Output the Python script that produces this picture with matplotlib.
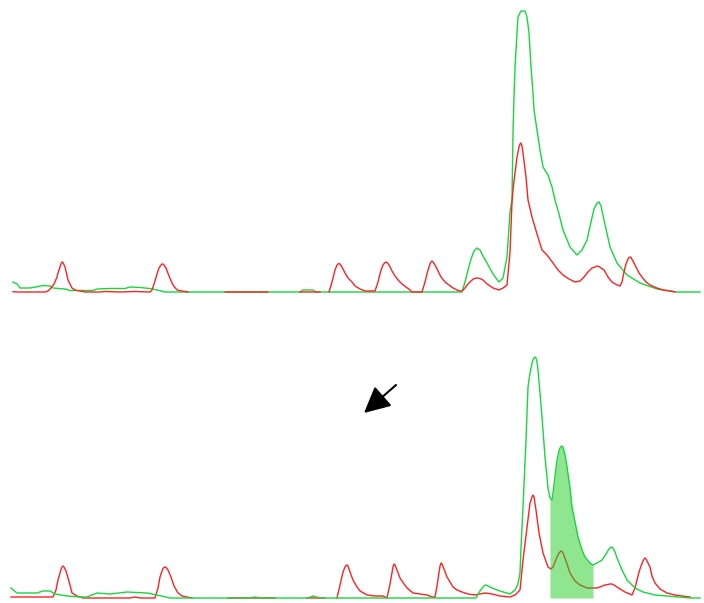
import numpy as np
import matplotlib.pyplot as plt

# две хроматограммы (верх / низ), красный и зелёный каналы
nan = np.nan

# --- верхняя панель ---
top_green_t = [13, 17, 20, 30, 33, 43, 50, 53, 65, 70, 80, 93, 97, 110, 125, 130, 140, 150, 155, 165,
               300, 303, 313, 316, 462, 465, 468, 471, 474, 477, 480, 483, 487, 493, 499, 503, 507,
               510, 512, 513, 514, 515, 517, 518, 521, 525, 527, 529, 531, 533, 534, 537, 540, 543,
               548, 552, 555, 559, 563, 570, 577, 582, 587, 591, 594, 597, 599, 601, 604, 610, 617,
               627, 640, 657, 677, 700]
top_green_i = [10, 8, 4, 4, 4.5, 6.5, 6, 4, 3, 1.5, 1.5, 1.5, 3, 3.5, 3.5, 5, 4.5, 3.5, 2.5, 0,
               0, 2, 2, 0, 0, 10, 22, 33, 41, 44, 42, 36, 29, 18, 10, 14, 35,
               80, 92, 159, 195, 225, 259, 275, 281, 281, 275, 259, 225, 199, 182, 162, 142, 125,
               117, 105, 92, 78, 62, 45, 37, 42, 52, 70, 83, 89, 90, 86, 72, 45, 29,
               17, 9, 3, 0, 0]

top_red_t = [13, 17, 45, 48, 51, 54, 57, 58, 60, 61, 62, 63, 65, 68, 72, 75, 80, 85, 100, 105, 120,
             135, 150, 152, 155, 157, 159, 161, 162, 163, 164, 166, 169, 173, 177, 182, 188, 189,
             225, 268, 269,
             300, 320, 321,
             329, 332, 335, 337, 338, 339, 340, 342, 345, 348, 352, 355, 360, 365, 375, 378, 381,
             383, 385, 386, 387, 389, 392, 395, 399, 402, 406, 410, 412, 422, 425, 428, 430, 431,
             432, 433, 435, 438, 441, 445, 449, 453, 457, 460, 462, 465, 468, 471, 474, 477, 480,
             483, 487, 493, 499, 503, 507, 510, 512, 513, 515, 517, 519, 520, 521, 522, 523, 526,
             528, 532, 537, 542, 547, 553, 558, 563, 569, 575, 580, 584, 588, 592, 595, 597, 599,
             601, 604, 608, 612, 617, 620, 622, 624, 626, 628, 629, 630, 631, 633, 636, 639, 642,
             646, 650, 657, 663, 670, 675]
top_red_i = [0.3, 0, 0, 1, 4, 8, 15, 19, 25, 28, 30, 29.5, 25, 12, 4, 2, 1, 0, 0, 0.5, 0,
             0.5, 0, 2, 11, 18, 24, 27, 28, 28, 27, 24, 16, 7, 2, 1, 0, nan,
             0, 0, nan,
             0, 0, nan,
             0, 10, 22, 27, 28, 28.5, 28, 25, 19, 14, 10, 6, 3, 1, 1, 10, 22,
             27, 29.5, 30, 29.5, 27, 21, 16, 11, 8, 5, 2, 0, 0, 10, 22, 28, 30,
             31, 30, 27, 21, 15, 10, 7, 4, 2, 1, 1, 4, 8, 11, 13.5, 14, 13.5,
             12, 8, 4, 2, 4, 7, 40, 90, 102, 119, 135, 145, 148, 149, 146, 139, 115,
             92, 75, 58, 42, 37, 29, 22, 17, 13, 10, 11, 15, 20, 24, 25, 26, 25.5,
             24, 22, 15, 10, 7, 6, 10, 20, 28, 33, 34.5, 35, 34.5, 31, 25, 19, 15,
             10, 7, 4, 2, 1, 0]

# --- нижняя панель ---
bot_green_t = [11, 17, 37, 43, 50, 55, 67, 80, 87, 97, 110, 127, 147, 157, 170, 250, 255, 260,
               308, 313, 320, 476, 480, 483, 485, 487, 492, 500, 510, 515, 518, 520, 521, 523, 526,
               528, 530, 532, 533, 534, 535, 536, 537, 538, 540, 542, 545, 548, 550, 552, 553, 555,
               557, 559, 560, 561, 562, 563, 565, 567, 570, 572, 575, 578, 582, 585, 590, 593, 597,
               602, 606, 609, 611, 613, 615, 617, 622, 627, 635, 643, 655, 667, 690, 700]
bot_green_i = [10, 5, 5, 7, 7, 4, 2, 1, 1, 5, 4, 6, 5, 3, 0, 0, 1, 0,
               0, 2, 0, 0, 7, 11, 13, 12.5, 10, 7, 4, 8, 14, 25, 50, 91, 158,
               211, 225, 235, 238, 240, 241, 240, 236, 228, 205, 181, 141, 110, 100, 98, 105, 122,
               138, 147, 150, 151.5, 152, 151, 143, 131, 110, 91, 76, 61, 48, 41, 35, 33, 35,
               38, 44, 49, 51, 50, 46, 40, 28, 18, 10, 6, 3, 2, 0, 0]

bot_red_t = [11, 53, 56, 58, 60, 61, 62, 63, 64, 66, 68, 70, 72, 77, 83, 130, 135, 140, 155, 158,
             160, 162, 163, 164, 165, 166, 168, 171, 174, 178, 182, 192, 193,
             228, 275, 276,
             307, 325, 326,
             337, 340, 343, 345, 346, 347, 348, 350, 353, 357, 360, 367, 375, 383, 387, 390, 392,
             393, 394, 395, 397, 400, 404, 407, 413, 420, 427, 432, 435, 437, 439, 440, 441, 442,
             444, 447, 450, 453, 457, 462, 468, 475, 480, 485, 492, 500, 510, 515, 520, 523, 527,
             530, 532, 533, 534, 536, 539, 543, 548, 551, 553, 555, 557, 559, 560, 561, 562, 563,
             565, 570, 575, 580, 587, 597, 605, 610, 612, 614, 617, 620, 625, 632, 635, 637, 639,
             641, 643, 644, 645, 646, 648, 650, 652, 655, 660, 667, 675, 682, 690]
bot_red_i = [1, 1, 8, 18, 25, 28.5, 31, 32, 31, 27, 20, 13, 5, 2, 0, 0, 1, 0, 0, 10,
             21, 27, 29.5, 30.5, 31, 30.5, 28, 21, 12, 5, 2, 0, nan,
             0, 0, nan,
             0, 0, nan,
             0, 13, 26, 31, 32.5, 33, 32, 26, 18, 11, 7, 3, 2, 2, 0, 14, 25,
             31, 34, 33, 28, 20, 14, 10, 5, 4, 3, 1, 1, 12, 25, 32, 35, 34,
             29, 21, 16, 11, 8, 6, 4, 3, 4, 5, 4, 2, 1, 3, 8, 38, 71,
             95, 101, 103, 101, 88, 65, 45, 31, 29, 31, 36, 41, 45, 46, 47, 46.5, 45,
             40, 25, 17, 13, 10, 10, 13, 14, 14, 13, 11, 9, 6, 3, 10, 18, 26,
             32, 37, 39, 40, 39, 35, 31, 22, 15, 9, 5, 3, 2, 1]

# выделенная область интегрирования на нижней панели
shade_start, shade_end = 550, 593

red = '#ff2020'
green = '#14d83c'

fig = plt.figure(figsize=(7.04, 6.03), dpi=100)
ax1 = fig.add_axes([0, 303 / 603, 1, 300 / 603])
ax2 = fig.add_axes([0, 0, 1, 293 / 603])

ax1.plot(top_green_t, top_green_i, color=green, lw=1.0, zorder=2)
ax1.plot(top_red_t, top_red_i, color=red, lw=1.0, zorder=3)
ax1.set_xlim(0, 704)
ax1.set_ylim(-8, 292)

gt = np.array(bot_green_t)
gi = np.array(bot_green_i)
ax2.plot(bot_red_t, bot_red_i, color=red, lw=1.0, zorder=2)
mask = (gt >= shade_start) & (gt <= shade_end)
ax2.fill_between(gt[mask], 0, gi[mask], color='#22cc22', alpha=0.5, lw=0, zorder=3)
ax2.plot(gt, gi, color=green, lw=1.0, zorder=4)
ax2.annotate('', xy=(364, 185), xytext=(396, 213),
             arrowprops=dict(arrowstyle='-|>,head_length=0.8,head_width=0.4',
                             mutation_scale=20, color='black', lw=1.5, shrinkA=0, shrinkB=0))
ax2.set_xlim(0, 704)
ax2.set_ylim(-5, 288)

for ax in (ax1, ax2):
    ax.axis('off')

fig.savefig('out.png', dpi=100)
